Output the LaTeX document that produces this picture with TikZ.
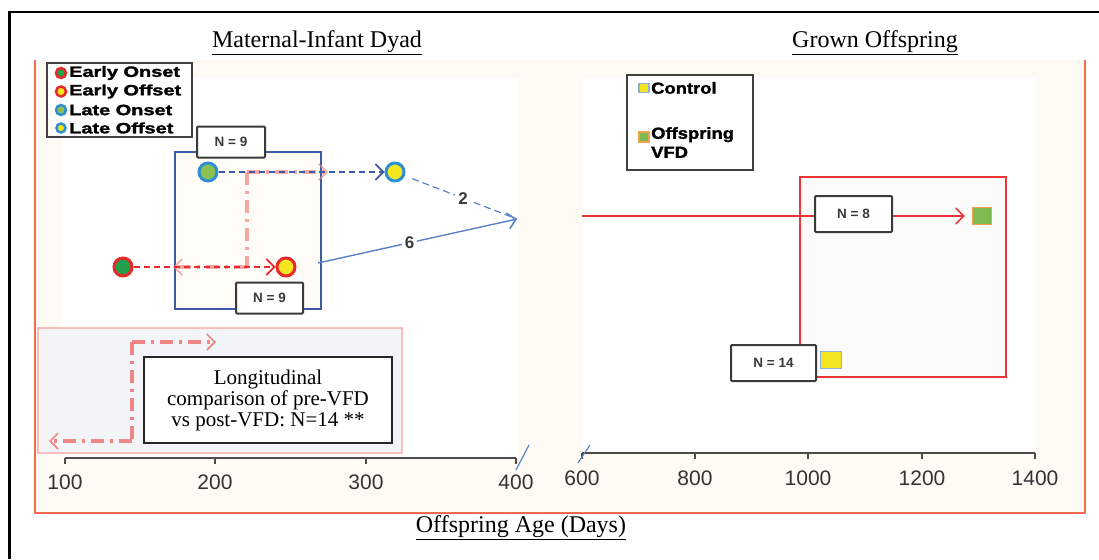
\documentclass[tikz,border=0pt]{standalone}
\usepackage{graphicx}
\usepackage{fontspec}
\setmainfont{Liberation Serif}
\setsansfont{Liberation Sans}
\newfontfamily\heavysans[FakeBold=1.6]{Liberation Sans Bold}
\usepackage{tikz}
\usetikzlibrary{arrows.meta,positioning}

\definecolor{frameorange}{HTML}{F26B4F}
\definecolor{cream}{HTML}{FDFBF3}
\definecolor{boxblue}{HTML}{3E5BA8}
\definecolor{ringblue}{HTML}{2F8FD0}
\definecolor{ringred}{HTML}{E52A2A}
\definecolor{darkgreen}{HTML}{22A04A}
\definecolor{lightgreen}{HTML}{8CC152}
\definecolor{dotyellow}{HTML}{F3E51E}
\definecolor{arrowblue}{HTML}{5B82C8}
\definecolor{pinkline}{HTML}{F08585}
\definecolor{pinkedge}{HTML}{F9BDBD}
\definecolor{pinkfill}{HTML}{F2F4F7}
\definecolor{redbox}{HTML}{EE3535}
\definecolor{sqgreen}{HTML}{7DBB4E}
\definecolor{sqorange}{HTML}{F0A050}
\definecolor{sqblue}{HTML}{8FB1D9}
\definecolor{labgray}{HTML}{3A3A3A}

\newcommand{\widetxt}[2]{\scalebox{#1}[1]{#2}}

\begin{document}
\begin{tikzpicture}[x=1pt,y=-1pt,
    dot/.style={circle,minimum size=18pt,inner sep=0pt,line width=3pt},
    legdot/.style={circle,minimum size=10pt,inner sep=0pt,line width=2.5pt},
    legtxt/.style={anchor=west,inner sep=0pt,font=\heavysans\fontsize{15}{15}\selectfont},
    nbox/.style={draw=labgray,fill=white,line width=2pt,rounded corners=1pt,minimum width=#1,minimum height=31pt,
        font=\sffamily\bfseries\fontsize{13.5}{13.5}\selectfont,text=labgray},
    numlab/.style={fill=white,inner sep=3pt,font=\sffamily\bfseries\fontsize{17}{17}\selectfont,text=labgray},
    ticklab/.style={font=\sffamily\fontsize{21}{21}\selectfont,text=black!80},
    axisline/.style={draw=black!70,line width=1.5pt},
    breakline/.style={draw=arrowblue,line width=1.2pt},
    pinkpath/.style={draw=pinkline,line width=4pt,dash pattern=on 13pt off 6pt on 3pt off 6pt},
    dashline/.style={line width=2pt,dash pattern=on 6pt off 4pt},
    barb/.style={-{Straight Barb[length=8pt,width=16pt,line width=1.6pt]}},
    title/.style={font=\fontsize{24}{24}\selectfont}]

    \useasboundingbox (0,0) rectangle (1099,559);
    \fill[white] (0,0) rectangle (1099,559);

    % frames and panels
    \draw[line width=2.5pt] (9.5,559) -- (9.5,12) -- (1099,12);
    \fill[cream] (35,60) rectangle (1085,513);
    \draw[frameorange,line width=2pt] (35,60) -- (35,513) -- (1085,513) -- (1085,60);
    \fill[white] (62,78) rectangle (518,458);
    \fill[white] (582,78) rectangle (1036,453);

    \node[title] (ttlleft) at (317,43) {\underline{Maternal-Infant Dyad}};
    \node[title] (ttlright) at (875,43) {\underline{Grown Offspring}};
    \node[title] (ttlaxis) at (521,528) {\underline{Offspring Age (Days)}};

    % axes
    \draw[axisline] (65,458) -- (516,458);
    \foreach \xv/\lab in {65/100,215/200,366/300,516/400}{
        \draw[axisline] (\xv,458) -- (\xv,464);
        \node[ticklab] (tick\lab) at (\xv,482) {\lab};
    }
    \draw[axisline] (582,453) -- (1035,453);
    \foreach \xv/\lab in {582/600,695/800,808/1000,922/1200,1035/1400}{
        \draw[axisline] (\xv,453) -- (\xv,459);
        \node[ticklab] (tick\lab) at (\xv,478) {\lab};
    }
    \draw[breakline] (516,470) -- (529,445);
    \draw[breakline] (578,463) -- (590,445);

    % left legend
    \node[draw=black!75,line width=2pt,fill=white,minimum width=145pt,minimum height=74pt,inner sep=0pt] (legL) at (119.5,100) {};
    \node[legdot,draw=ringred,fill=darkgreen] (ldA) at (61,73) {};
    \node[legdot,draw=ringred,fill=dotyellow] (ldB) at (61,91.5) {};
    \node[legdot,draw=ringblue,fill=lightgreen] (ldC) at (61,110) {};
    \node[legdot,draw=ringblue,fill=dotyellow,minimum size=9pt] (ldD) at (61,128) {};
    \node[legtxt] (ltA) at (69,73) {\widetxt{1.33}{Early Onset}};
    \node[legtxt] (ltB) at (69,91.5) {\widetxt{1.33}{Early Offset}};
    \node[legtxt] (ltC) at (69,110) {\widetxt{1.33}{Late Onset}};
    \node[legtxt] (ltD) at (69,128) {\widetxt{1.33}{Late Offset}};

    % dyad box
    \draw[boxblue,fill=orange!3,line width=2.5pt] (175,152) rectangle (321,309);
    \node[nbox=68pt] (n9top) at (231,142) {N = 9};
    \node[nbox=67pt] (n9bot) at (269.5,298) {N = 9};

    \coordinate (pkA) at (247,172);
    \coordinate (pkB) at (328,172);
    \coordinate (pkC) at (247,267);
    \coordinate (pkD) at (173,267);
    \draw[pinkpath,opacity=0.7,barb] (pkA) -- (pkB);
    \draw[pinkpath,opacity=0.7] (pkA) -- (pkC);
    \draw[pinkpath,opacity=0.7,barb] (pkC) -- (pkD);

    \node[dot,draw=ringblue,fill=lightgreen] (lon) at (208,172) {};
    \node[dot,draw=ringblue,fill=dotyellow] (loff) at (395,172) {};
    \node[dot,draw=ringred,fill=darkgreen] (eon) at (123,267) {};
    \node[dot,draw=ringred,fill=dotyellow] (eoff) at (286,267) {};
    \draw[boxblue,dashline,barb] (lon) -- (loff);
    \draw[ringred,dashline,barb] (eon) -- (eoff);

    \coordinate (tip) at (517,219);
    \coordinate (sixstart) at (318,263);
    \draw[arrowblue,line width=1.2pt,dash pattern=on 7pt off 4pt,shorten <=8pt] (loff) -- node[numlab,pos=0.52] (lab2) {2} (tip);
    \draw[arrowblue,line width=1.4pt,barb] (sixstart) -- node[numlab,pos=0.46] (lab6) {6} (tip);

    % longitudinal legend
    \draw[pinkedge,fill=pinkfill,line width=1.5pt] (38,328) rectangle (402,453);
    \coordinate (lgA) at (132,342);
    \coordinate (lgB) at (216,342);
    \coordinate (lgC) at (132,441);
    \coordinate (lgD) at (49,441);
    \draw[pinkpath,barb] (lgA) -- (lgB);
    \draw[pinkpath] (lgA) -- (lgC);
    \draw[pinkpath,barb] (lgC) -- (lgD);
    \node[draw=black!85,line width=2pt,fill=white,minimum width=248pt,minimum height=86pt,align=center,
        font=\fontsize{21}{21}\selectfont] (longbox) at (268,400)
        {Longitudinal\\comparison of pre-VFD\\vs post-VFD: N=14 **};

    % right legend
    \node[draw=black!75,line width=2pt,fill=white,minimum width=126pt,minimum height=95pt,inner sep=0pt] (legR) at (690,122.5) {};
    \node[draw=sqblue,fill=dotyellow,line width=1.2pt,minimum width=10pt,minimum height=9pt,inner sep=0pt] (lsqA) at (644,88) {};
    \node[draw=sqorange,fill=sqgreen,line width=1.2pt,minimum width=10pt,minimum height=10pt,inner sep=0pt] (lsqB) at (644,137) {};
    \node[legtxt,font=\heavysans\fontsize{16}{19}\selectfont] (lrA) at (651,88) {\widetxt{1.15}{Control}};
    \node[legtxt,font=\heavysans\fontsize{16}{19}\selectfont,align=left,anchor=north west] (lrB) at (651,127)
        {\widetxt{1.15}{Offspring}\\\widetxt{1.15}{VFD}};

    % grown offspring
    \draw[redbox,fill=black!1.5,line width=2.5pt] (800,177) rectangle (1006,377);
    \coordinate (redstart) at (582,216);
    \node[nbox=77pt,minimum height=36pt] (n8) at (853.5,214) {N = 8};
    \node[nbox=85pt,minimum height=36pt] (n14) at (773.5,363) {N = 14};
    \node[draw=sqorange,fill=sqgreen,line width=1.2pt,minimum width=19pt,minimum height=17pt,inner sep=0pt] (vfdsq) at (982,216) {};
    \node[draw=sqblue,fill=dotyellow,line width=1.2pt,minimum width=21pt,minimum height=17pt,inner sep=0pt] (ctlsq) at (831,360) {};
    \draw[redbox,line width=1.5pt] (redstart) -- (n8.west |- redstart);
    \draw[redbox,line width=1.5pt,barb,shorten >=7pt] (n8.east |- redstart) -- (vfdsq);
\end{tikzpicture}
\end{document}
